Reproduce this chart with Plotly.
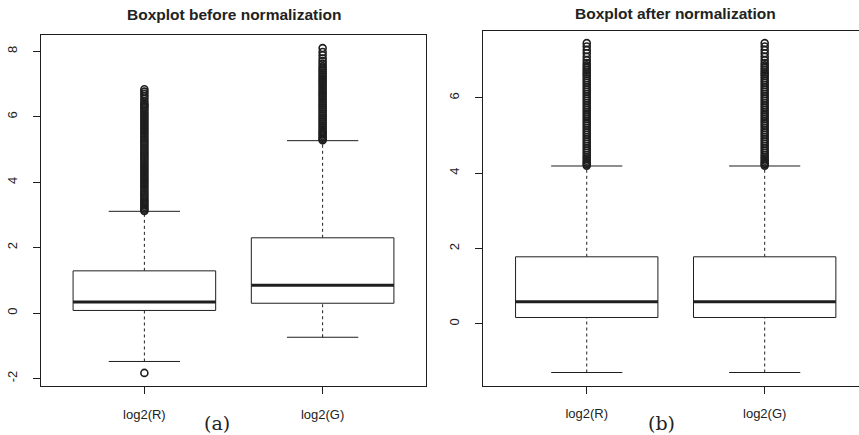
import plotly.graph_objects as go

# ---------------- data ----------------
categories = ["log2(R)", "log2(G)"]

before_q1 = [0.08, 0.30]
before_median = [0.34, 0.85]
before_q3 = [1.29, 2.30]
before_lower = [-1.48, -0.74]
before_upper = [3.11, 5.27]
before_out_R = [-1.83,
                3.12, 3.16, 3.20, 3.25, 3.30, 3.35, 3.40, 3.45, 3.50, 3.56, 3.62, 3.68,
                3.74, 3.80, 3.86, 3.92, 3.98, 4.04, 4.10, 4.16, 4.22, 4.28, 4.34, 4.40,
                4.46, 4.52, 4.58, 4.64, 4.70, 4.76, 4.82, 4.88, 4.94, 5.00, 5.06, 5.12,
                5.18, 5.24, 5.30, 5.36, 5.42, 5.48, 5.54, 5.60, 5.66, 5.72, 5.78, 5.84,
                5.90, 5.96, 6.02, 6.08, 6.14, 6.20, 6.26, 6.31, 6.36, 6.40, 6.47, 6.55,
                6.63, 6.70, 6.77, 6.84]
before_out_G = [5.28, 5.32, 5.36, 5.41, 5.46, 5.51, 5.56, 5.62, 5.68, 5.74, 5.80, 5.86,
                5.92, 5.98, 6.04, 6.10, 6.16, 6.22, 6.28, 6.34, 6.40, 6.46, 6.52, 6.58,
                6.64, 6.70, 6.76, 6.82, 6.88, 6.94, 7.00, 7.06, 7.12, 7.18, 7.24, 7.30,
                7.36, 7.42, 7.48, 7.54, 7.62, 7.70, 7.78, 7.88, 7.98, 8.10]

after_q1 = [0.17, 0.17]
after_median = [0.59, 0.59]
after_q3 = [1.78, 1.78]
after_lower = [-1.29, -1.29]
after_upper = [4.19, 4.19]
after_out_R = [4.20, 4.24, 4.28, 4.33, 4.38, 4.43, 4.48, 4.54, 4.60, 4.66, 4.72, 4.78,
               4.84, 4.90, 4.96, 5.02, 5.08, 5.14, 5.20, 5.26, 5.32, 5.38, 5.44, 5.50,
               5.56, 5.62, 5.68, 5.74, 5.80, 5.86, 5.92, 5.98, 6.04, 6.10, 6.16, 6.22,
               6.28, 6.34, 6.40, 6.46, 6.52, 6.58, 6.63, 6.68, 6.74, 6.80, 6.86, 6.92,
               7.00, 7.09, 7.18, 7.27, 7.36, 7.45]
after_out_G = [4.20, 4.24, 4.28, 4.33, 4.38, 4.43, 4.48, 4.54, 4.60, 4.66, 4.72, 4.78,
               4.84, 4.90, 4.96, 5.02, 5.08, 5.14, 5.20, 5.26, 5.32, 5.38, 5.44, 5.50,
               5.56, 5.62, 5.68, 5.74, 5.80, 5.86, 5.92, 5.98, 6.04, 6.10, 6.16, 6.22,
               6.28, 6.34, 6.40, 6.46, 6.52, 6.58, 6.63, 6.68, 6.74, 6.80, 6.86, 6.92,
               7.00, 7.09, 7.18, 7.27, 7.36, 7.45]

titles = ["Boxplot before normalization", "Boxplot after normalization"]
panel_tags = ["(a)", "(b)"]
y_ticks_before = [-2, 0, 2, 4, 6, 8]
y_ticks_after = [0, 2, 4, 6]

# ---------------- drawing ----------------
INK = "#1e1e1e"
W, H = 859, 435
fig = go.Figure()


def add_boxes(xa, ya, q1, med, q3, lo, hi, outs):
    for i in range(len(categories)):
        c = i + 1
        common = dict(xaxis=xa, yaxis=ya, showlegend=False, hoverinfo="skip")
        # dashed whiskers
        fig.add_trace(go.Scatter(x=[c, c], y=[lo[i], q1[i]], mode="lines",
                                 line=dict(color=INK, width=1, dash="3px,3px"), **common))
        fig.add_trace(go.Scatter(x=[c, c], y=[q3[i], hi[i]], mode="lines",
                                 line=dict(color=INK, width=1, dash="3px,3px"), **common))
        # whisker caps
        for v in (lo[i], hi[i]):
            fig.add_trace(go.Scatter(x=[c - 0.2, c + 0.2], y=[v, v], mode="lines",
                                     line=dict(color=INK, width=1), **common))
        # box
        fig.add_trace(go.Scatter(x=[c - 0.4, c + 0.4, c + 0.4, c - 0.4, c - 0.4],
                                 y=[q1[i], q1[i], q3[i], q3[i], q1[i]], mode="lines",
                                 fill="toself", fillcolor="white",
                                 line=dict(color=INK, width=1), **common))
        # median
        fig.add_trace(go.Scatter(x=[c - 0.4, c + 0.4], y=[med[i], med[i]], mode="lines",
                                 line=dict(color=INK, width=3), **common))
        # outliers
        fig.add_trace(go.Scatter(x=[c] * len(outs[i]), y=outs[i], mode="markers",
                                 marker=dict(symbol="circle-open", size=7,
                                             color=INK, line=dict(width=1.6, color=INK)),
                                 **common))


add_boxes("x", "y", before_q1, before_median, before_q3, before_lower, before_upper,
          [before_out_R, before_out_G])
add_boxes("x2", "y2", after_q1, after_median, after_q3, after_lower, after_upper,
          [after_out_R, after_out_G])

axis_font = dict(family="Liberation Sans, Arial, sans-serif", size=13, color="#222")
xcommon = dict(showgrid=False, zeroline=False, showline=True, linecolor=INK, linewidth=1,
               ticks="outside", ticklen=7, tickcolor=INK, tickwidth=1,
               tickvals=[1, 2], ticktext=categories, tickfont=axis_font,
               ticklabelstandoff=9, automargin=False, fixedrange=True)
ycommon = dict(showgrid=False, zeroline=False, showline=True, linecolor=INK, linewidth=1,
               ticks="outside", ticklen=7, tickcolor=INK, tickwidth=1,
               tickfont=axis_font, tickangle=-90, ticklabelstandoff=11,
               automargin=False, fixedrange=True)

fig.update_layout(
    width=W, height=H,
    margin=dict(l=0, r=0, t=0, b=0, autoexpand=False),
    paper_bgcolor="white", plot_bgcolor="white",
    xaxis=dict(domain=[41 / W, 426 / W], range=[0.42, 2.58], mirror=True,
               anchor="y", **xcommon),
    yaxis=dict(domain=[(H - 386) / H, (H - 35) / H], range=[-2.23, 8.50], mirror=True,
               tickvals=y_ticks_before, ticktext=[str(v) for v in y_ticks_before],
               anchor="x", **ycommon),
    xaxis2=dict(domain=[483 / W, 1.0], range=[0.417, 2.53], mirror=True,
                anchor="y2", **xcommon),
    yaxis2=dict(domain=[(H - 385.7) / H, (H - 30.7) / H], range=[-1.64, 7.78],
                tickvals=y_ticks_after, ticktext=[str(v) for v in y_ticks_after],
                anchor="x2", **ycommon),
)

title_font = dict(family="Liberation Sans, Arial, sans-serif", size=15.5, color="#222")
tag_font = dict(family="DejaVu Serif, serif", size=19, color="#222")
fig.add_annotation(text="<b>" + titles[0] + "</b>", xref="paper", yref="paper",
                   x=233.5 / W, y=1 - 14 / H, xanchor="center", yanchor="middle",
                   showarrow=False, font=title_font)
fig.add_annotation(text="<b>" + titles[1] + "</b>", xref="paper", yref="paper",
                   x=675.7 / W, y=1 - 13.5 / H, xanchor="center", yanchor="middle",
                   showarrow=False, font=title_font)
fig.add_annotation(text=panel_tags[0], xref="paper", yref="paper",
                   x=217 / W, y=1 - 422.5 / H, xanchor="center", yanchor="middle",
                   showarrow=False, font=tag_font)
fig.add_annotation(text=panel_tags[1], xref="paper", yref="paper",
                   x=661.5 / W, y=1 - 422.5 / H, xanchor="center", yanchor="middle",
                   showarrow=False, font=tag_font)

fig.write_html("out.html", config={"displayModeBar": False, "staticPlot": True},
               post_script="document.body.style.margin='0px';"
                           "document.body.style.overflow='hidden';")
